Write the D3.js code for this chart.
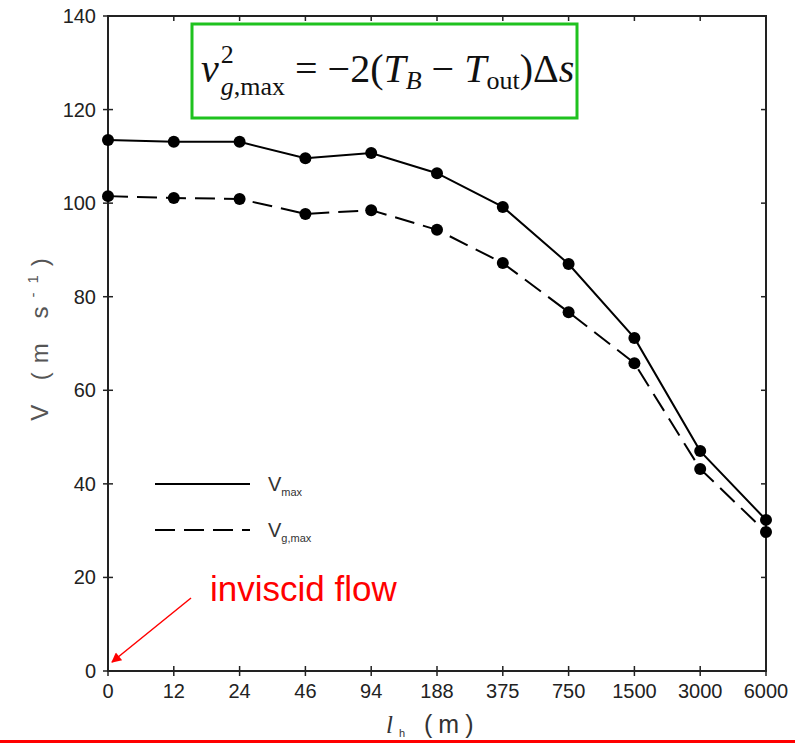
<!DOCTYPE html>
<html>
<head>
<meta charset="utf-8">
<script src="https://cdn.jsdelivr.net/npm/d3@7"></script>
<style>
  body { margin: 0; background: #fff; }
  svg text { font-family: "Liberation Sans", Arial, sans-serif; }
</style>
</head>
<body>
<div id="chart"></div>
<script>
var categories = ["0", "12", "24", "46", "94", "188", "375", "750", "1500", "3000", "6000"];
var vMax  = [113.5, 113.1, 113.1, 109.6, 110.7, 106.4, 99.2, 87.0, 71.2, 47.0, 32.3];
var vgMax = [101.5, 101.1, 100.9, 97.7, 98.5, 94.3, 87.2, 76.7, 65.8, 43.2, 29.7];
var yTicks = [0, 20, 40, 60, 80, 100, 120, 140];

var width = 795, height = 744,
    plotLeft = 108, plotRight = 766, plotTop = 16, plotBottom = 671;

var svg = d3.select("#chart").append("svg")
    .attr("width", width)
    .attr("height", height);

var x = d3.scalePoint().domain(categories).range([plotLeft, plotRight]),
    y = d3.scaleLinear().domain([0, 140]).range([plotBottom, plotTop]);

var tickFont = 20, axisCol = "#222", serif = "'Liberation Serif', 'DejaVu Serif', serif";

// frame
svg.append("rect")
    .attr("x", plotLeft).attr("y", plotTop)
    .attr("width", plotRight - plotLeft).attr("height", plotBottom - plotTop)
    .attr("fill", "none").attr("stroke", axisCol).attr("stroke-width", 2);

// left ticks, crossing the axis
svg.append("g").selectAll("line").data(yTicks).join("line")
    .attr("x1", plotLeft - 5).attr("x2", plotLeft + 5)
    .attr("y1", function(d) { return y(d); }).attr("y2", function(d) { return y(d); })
    .attr("stroke", axisCol).attr("stroke-width", 1.5);
svg.append("g").selectAll("text").data(yTicks).join("text")
    .attr("x", plotLeft - 12).attr("y", function(d) { return y(d) + 7; })
    .attr("text-anchor", "end").attr("font-size", tickFont).attr("fill", "#222")
    .text(function(d) { return d; });
// right ticks, inward
svg.append("g").selectAll("line").data(yTicks).join("line")
    .attr("x1", plotRight - 5).attr("x2", plotRight)
    .attr("y1", function(d) { return y(d); }).attr("y2", function(d) { return y(d); })
    .attr("stroke", axisCol).attr("stroke-width", 1.5);

// bottom ticks, crossing
svg.append("g").selectAll("line").data(categories).join("line")
    .attr("x1", function(d) { return x(d); }).attr("x2", function(d) { return x(d); })
    .attr("y1", plotBottom - 5).attr("y2", plotBottom + 5)
    .attr("stroke", axisCol).attr("stroke-width", 1.5);
svg.append("g").selectAll("text").data(categories).join("text")
    .attr("x", function(d) { return x(d); }).attr("y", plotBottom + 27)
    .attr("text-anchor", "middle").attr("font-size", tickFont).attr("fill", "#222")
    .text(function(d) { return d; });
// top ticks, inward
svg.append("g").selectAll("line").data(categories).join("line")
    .attr("x1", function(d) { return x(d); }).attr("x2", function(d) { return x(d); })
    .attr("y1", plotTop).attr("y2", plotTop + 5)
    .attr("stroke", axisCol).attr("stroke-width", 1.5);

// axis titles
svg.append("text")
    .attr("transform", "translate(48,335) rotate(-90)")
    .attr("text-anchor", "middle").attr("font-size", 24).attr("fill", "#555")
    .attr("letter-spacing", 9)
    .html('V (m s<tspan dy="-10" font-size="15">-1</tspan><tspan dy="10">)</tspan>');

svg.append("text")
    .attr("x", 386).attr("y", 733)
    .attr("font-size", 25).attr("fill", "#333")
    .attr("letter-spacing", 6)
    .html('<tspan font-family="' + serif.replace(/'/g, "") + '" font-style="italic">l</tspan><tspan dy="4" font-size="11">h</tspan><tspan dy="-4"> (m)</tspan>');

// series
var line = d3.line()
    .x(function(d, i) { return x(categories[i]); })
    .y(function(d) { return y(d); });

var series = [
    { values: vMax, dash: null },
    { values: vgMax, dash: "20,9" }
];

series.forEach(function(s) {
    svg.append("path")
        .datum(s.values)
        .attr("d", line)
        .attr("fill", "none").attr("stroke", "#000").attr("stroke-width", 2)
        .attr("stroke-dasharray", s.dash);
    svg.append("g").selectAll("circle").data(s.values).join("circle")
        .attr("cx", function(d, i) { return x(categories[i]); })
        .attr("cy", function(d) { return y(d); })
        .attr("r", 6).attr("fill", "#000");
});

// legend
var legend = [
    { label: "max", dash: null, yPos: 484 },
    { label: "g,max", dash: "20,9", yPos: 530 }
];
legend.forEach(function(l) {
    svg.append("line")
        .attr("x1", 155).attr("x2", 250)
        .attr("y1", l.yPos).attr("y2", l.yPos)
        .attr("stroke", "#000").attr("stroke-width", 2)
        .attr("stroke-dasharray", l.dash);
    svg.append("text")
        .attr("x", 268).attr("y", l.yPos + 7)
        .attr("font-size", 20).attr("fill", "#333")
        .html('V<tspan dy="5" font-size="11">' + l.label + '</tspan>');
});

// formula box
svg.append("rect")
    .attr("x", 192).attr("y", 24).attr("width", 385).attr("height", 94)
    .attr("fill", "#fff").attr("stroke", "#1fc21f").attr("stroke-width", 3);
svg.append("text")
    .attr("x", 201).attr("y", 82)
    .attr("style", "font-family:" + serif)
    .attr("font-size", 40).attr("fill", "#111")
    .html('<tspan font-style="italic">v</tspan>' +
          '<tspan dx="2" dy="-19" font-size="26">2</tspan>' +
          '<tspan dx="-13" dy="32" font-size="26"><tspan font-style="italic">g</tspan>,max</tspan>' +
          '<tspan dy="-13"> = −2(</tspan><tspan font-style="italic">T</tspan>' +
          '<tspan dy="7" font-size="26" font-style="italic">B</tspan>' +
          '<tspan dy="-7"> − </tspan><tspan font-style="italic">T</tspan>' +
          '<tspan dy="7" font-size="26">out</tspan>' +
          '<tspan dy="-7">)Δ</tspan><tspan font-style="italic">s</tspan>');

// annotation
svg.append("defs").append("marker")
    .attr("id", "arrow").attr("viewBox", "0 0 10 10")
    .attr("refX", 9).attr("refY", 5)
    .attr("markerWidth", 14).attr("markerHeight", 10)
    .attr("markerUnits", "userSpaceOnUse")
    .attr("orient", "auto")
    .append("path").attr("d", "M0,0 L10,5 L0,10 z").attr("fill", "#f00");
svg.append("line")
    .attr("x1", 191).attr("y1", 598).attr("x2", 112).attr("y2", 662)
    .attr("stroke", "#f00").attr("stroke-width", 1.5)
    .attr("marker-end", "url(#arrow)");
svg.append("text")
    .attr("x", 210).attr("y", 601)
    .attr("font-size", 35).attr("fill", "#f00")
    .text("inviscid flow");

// red rule at bottom
svg.append("line")
    .attr("x1", 0).attr("x2", width).attr("y1", 741.5).attr("y2", 741.5)
    .attr("stroke", "#f00").attr("stroke-width", 3);
</script>
</body>
</html>
